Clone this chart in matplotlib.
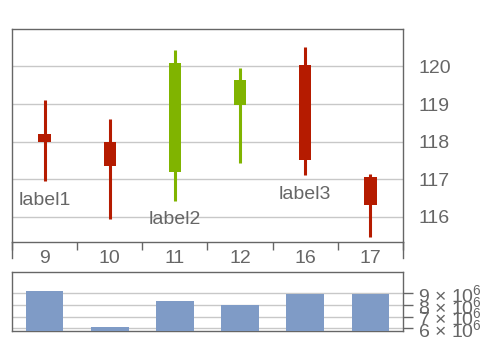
import matplotlib
matplotlib.use("Agg")
import matplotlib.pyplot as plt
import numpy as np

plt.rcParams['font.family'] = ['Liberation Sans', 'DejaVu Sans']
plt.rcParams['mathtext.fontset'] = 'custom'
plt.rcParams['mathtext.rm'] = 'Liberation Sans'
plt.rcParams['mathtext.it'] = 'Liberation Sans'

categories = ['9', '10', '11', '12', '16', '17']
opens  = [118.19, 117.98, 117.19, 118.97, 120.03, 117.05]
closes = [118.00, 117.35, 120.09, 119.63, 117.50, 116.30]
highs  = [119.10, 118.61, 120.43, 119.95, 120.52, 117.13]
lows   = [116.94, 115.93, 116.43, 117.43, 117.10, 115.47]
volumes = [9.2e6, 6.11e6, 8.37e6, 8.03e6, 8.97e6, 8.97e6]
annot_idx = [0, 2, 4]
annot_text = ['label1', 'label2', 'label3']
main_yticks = [116, 117, 118, 119, 120]
vol_yticks = [6e6, 7e6, 8e6, 9e6]

UP = '#80B400'
DOWN = '#B51B00'
BAR = '#7F9BC6'
GRAY = '#666666'
GRID = '#C8C8C8'

fig = plt.figure(figsize=(4.82, 3.41), dpi=100)
ax = fig.add_axes([12/482, 1-241.5/341, 391/482, 212.2/341])
axv = fig.add_axes([12/482, 1-331/341, 391/482, 58.7/341])

x = np.arange(len(categories))
colors = [UP if c >= o else DOWN for o, c in zip(opens, closes)]
ax.vlines(x, lows, highs, colors=colors, linewidth=2.2, zorder=3)
bottoms = [min(o, c) for o, c in zip(opens, closes)]
heights = [abs(c - o) for o, c in zip(opens, closes)]
ax.bar(x, heights, bottom=bottoms, width=0.19, color=colors, zorder=4)

for i, t in zip(annot_idx, annot_text):
    ax.text(x[i], lows[i] - 0.5, t, ha='center', va='center', fontsize=14, color=GRAY)

ax.set_xlim(-0.5, len(categories) - 0.5)
ax.set_ylim(115.34, 120.99)
ax.set_yticks(main_yticks)
ax.set_yticklabels([str(v) for v in main_yticks])
ax.yaxis.tick_right()
ax.tick_params(axis='y', length=0, pad=11, labelsize=14, labelcolor=GRAY)
ax.set_xticks(x)
ax.set_xticklabels(categories)
ax.set_xticks(np.arange(-0.5, len(categories)), minor=True)
ax.tick_params(axis='x', which='major', length=0, pad=6, labelsize=14, labelcolor=GRAY)
ax.tick_params(axis='x', which='minor', length=5.8, width=1, color=GRAY, direction='out')
ax.grid(axis='y', color=GRID, linewidth=1, zorder=0)
ax.set_axisbelow(True)
for s in ax.spines.values():
    s.set_color(GRAY)
    s.set_linewidth(1)
# longer edge ticks
for xe in (0, 1):
    ax.plot([xe, xe], [0, -16/212.2], transform=ax.transAxes, color=GRAY,
            linewidth=1, clip_on=False)

axv.bar(x, volumes, width=0.58, color=BAR, zorder=3)
axv.set_xlim(-0.5, len(categories) - 0.5)
axv.set_ylim(5.77e6, 10.8e6)
axv.set_xticks([])
axv.set_yticks(vol_yticks)
axv.set_yticklabels(['%d × 10$^{6}$' % int(v/1e6) for v in vol_yticks])
axv.yaxis.tick_right()
axv.tick_params(axis='y', length=7, width=1, color=GRAY, pad=4, labelsize=14, labelcolor=GRAY)
axv.grid(axis='y', color=GRID, linewidth=1, zorder=0)
axv.set_axisbelow(True)
for s in axv.spines.values():
    s.set_color(GRAY)
    s.set_linewidth(1)

fig.savefig('out.png', dpi=100)
